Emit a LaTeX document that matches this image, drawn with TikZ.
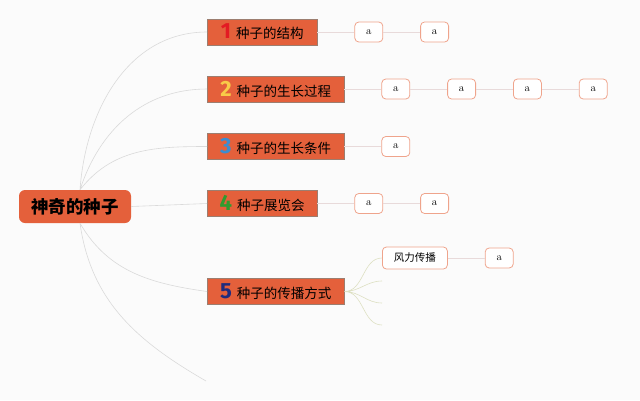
\documentclass[tikz,border=0pt]{standalone}
\usepackage{fontspec}
\usepackage{tikz}
\usetikzlibrary{positioning}
\newfontfamily\cjk{Noto Sans CJK SC}
\newfontfamily\numfont{Fira Sans}
\definecolor{seedorange}{HTML}{E4603B}
\definecolor{topicedge}{HTML}{9C7E70}
\definecolor{leafedge}{HTML}{EFA48C}
\definecolor{linegray}{HTML}{DADADA}
\definecolor{leafline}{HTML}{E8DADA}
\definecolor{subline}{HTML}{DDE0C2}
\definecolor{bgwhite}{HTML}{FBFBFB}
\definecolor{num1}{HTML}{E31B23}
\definecolor{num2}{HTML}{F8CB48}
\definecolor{num3}{HTML}{3C8DD0}
\definecolor{num4}{HTML}{2F9B2F}
\definecolor{num5}{HTML}{1F2B7E}
\newcommand{\topicnum}[2]{{\numfont\bfseries\fontsize{22}{22}\selectfont\color{#1}#2}\hspace{5pt}}
\tikzset{x=1pt, y=-1pt, node distance=37pt,
  root/.style={fill=seedorange, rounded corners=6pt, minimum width=112pt,
    minimum height=33pt, font=\cjk\bfseries\fontsize{17.5}{18}\selectfont},
  topic/.style={fill=seedorange, draw=topicedge, anchor=west, minimum height=26pt,
    minimum width=#1, inner xsep=10pt, inner ysep=0pt,
    font=\cjk\fontsize{13.5}{14}\selectfont},
  topic/.default=110pt,
  leaf/.style={fill=white, draw=leafedge, line width=0.8pt, rounded corners=4pt,
    minimum width=28pt, minimum height=20pt, inner sep=0pt,
    font=\fontsize{11}{11}\selectfont},
  subleaf/.style={leaf, minimum width=65pt, minimum height=22pt,
    font=\cjk\fontsize{10.5}{11}\selectfont},
  branch/.style={draw=linegray, line width=0.6pt},
  twig/.style={draw=leafline, line width=0.8pt},
  sprig/.style={draw=subline, line width=0.6pt}}

\begin{document}
\begin{tikzpicture}
    \fill[bgwhite] (0,0) rectangle (640,400);
    \useasboundingbox (0,0) rectangle (640,400);

    \node[root] (seed) at (75,206.5) {神奇的种子};

    \node[topic] (t1) at (207,32) {\topicnum{num1}{1}种子的结构};
    \node[topic=137pt] (t2) at (207,89) {\topicnum{num2}{2}种子的生长过程};
    \node[topic=137pt] (t3) at (207,146.5) {\topicnum{num3}{3}种子的生长条件};
    \node[topic] (t4) at (207,203.5) {\topicnum{num4}{4}种子展览会};
    \node[topic=137pt] (t5) at (207,291.5) {\topicnum{num5}{5}种子的传播方式};
    \coordinate (tail) at (206,381);

    \draw[branch] ([xshift=5pt]seed.north) to[out=86,in=180] (t1.west)
          ([xshift=5pt]seed.north) to[out=72,in=180] (t2.west)
          ([xshift=5pt]seed.north) to[out=52,in=180] (t3.west)
          (seed.east) -- (t4.west)
          ([xshift=5pt]seed.south) to[out=-60,in=172] (t5.west)
          ([xshift=5pt]seed.south) to[out=-82,in=150] (tail);

    % leaves
    \node[leaf, right=of t1] (a11) {a};
    \node[leaf, right=of a11] (a12) {a};
    \node[leaf, right=of t2] (a21) {a};
    \node[leaf, right=of a21] (a22) {a};
    \node[leaf, right=of a22] (a23) {a};
    \node[leaf, right=of a23] (a24) {a};
    \node[leaf, right=of t3] (a31) {a};
    \node[leaf, right=of t4] (a41) {a};
    \node[leaf, right=of a41] (a42) {a};

    \draw[twig] (t1) -- (a11) (a11) -- (a12)
          (t2) -- (a21) (a21) -- (a22) (a22) -- (a23) (a23) -- (a24)
          (t3) -- (a31)
          (t4) -- (a41) (a41) -- (a42);

    % spreading
    \node[subleaf, anchor=west] (wind) at (382,258) {风力传播};
    \node[leaf, right=of wind] (a51) {a};
    \coordinate (s2) at (382,281);
    \coordinate (s3) at (382,303);
    \coordinate (s4) at (382,325);

    \draw[sprig] (t5.east) to[out=0,in=180] (wind.west)
          (t5.east) to[out=0,in=180] (s2)
          (t5.east) to[out=0,in=180] (s3)
          (t5.east) to[out=0,in=180] (s4);
    \draw[twig] (wind) -- (a51);
\end{tikzpicture}
\end{document}
